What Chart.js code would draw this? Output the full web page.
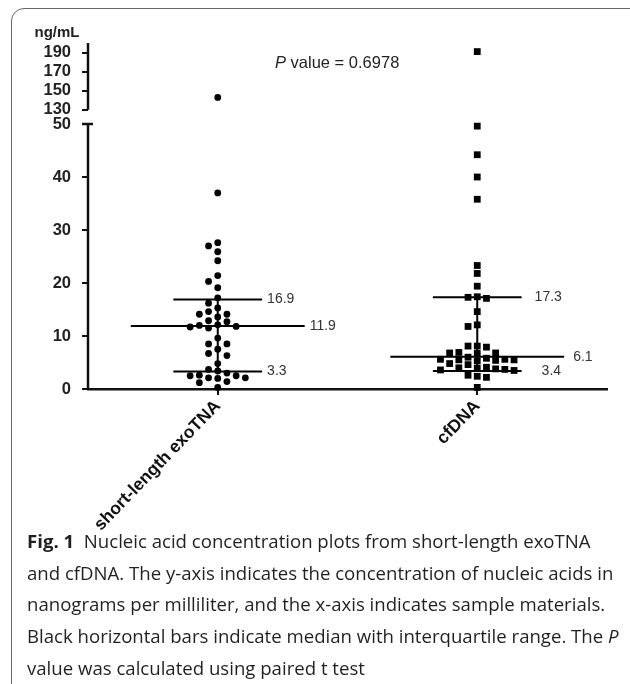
<!DOCTYPE html>
<html>
<head>
<meta charset="utf-8">
<script src="https://cdn.jsdelivr.net/npm/chart.js@4"></script>
<style>
  body { margin: 0; background: #fff; }
  #wrap { position: relative; width: 630px; height: 684px; overflow: hidden; }
  #frame { position: absolute; left: 11px; top: 8px; width: 660px; height: 700px;
           border: 1.5px solid #666; border-radius: 13px; box-sizing: border-box; }
  #chartBox { position: absolute; left: 0; top: 0; width: 630px; height: 684px; }
  #caption { position: absolute; left: 27px; top: 525px; font-family: "Open Sans", sans-serif;
             font-size: 18.6px; line-height: 31.7px; color: #231f20; white-space: nowrap; letter-spacing: 0; }
</style>
</head>
<body>
<div id="wrap">
  <div id="frame"></div>
  <div id="chartBox"><canvas id="plot"></canvas></div>
  <div id="caption">
    <b>Fig. 1</b>&nbsp;&nbsp;Nucleic acid concentration plots from short-length exoTNA<br>
    and cfDNA. The y-axis indicates the concentration of nucleic acids in<br>
    nanograms per milliliter, and the x-axis indicates sample materials.<br>
    Black horizontal bars indicate median with interquartile range. The <i>P</i><br>
    value was calculated using paired t test
  </div>
</div>
<script>
const categories = ["short-length exoTNA", "cfDNA"];
const exoTNA = [143, 37, 27.6, 27.0, 25.9, 24.2, 21.4, 20.3, 19.1, 17.2, 16.2, 15.3, 14.6, 14.1,
  14.1, 13.6, 12.9, 12.7, 12.1, 12.0, 11.8, 11.7, 11.5, 9.6, 8.5, 8.5, 7.5, 6.7, 6.3, 4.8,
  3.7, 3.4, 3.0, 2.6, 2.5, 2.5, 2.1, 2.1, 2.0, 1.4, 1.2, 0.3];
const cfDNA = [191, 49.6, 44.2, 40.0, 35.8, 23.3, 21.8, 19.4, 17.4, 17.3, 17.1, 14.6, 12.1, 11.8,
  8.1, 8.1, 7.9, 6.9, 6.8, 6.8, 6.7, 6.0, 5.8, 5.6, 5.6, 5.5, 5.5, 5.4, 5.3, 4.8, 4.6,
  4.1, 4.0, 3.9, 3.8, 3.7, 3.6, 3.5, 2.6, 2.4, 2.2, 0.3];
const medians = [11.9, 6.1];
const q1 = [3.3, 3.4];
const q3 = [16.9, 17.3];
const lowerTicks = [0, 10, 20, 30, 40, 50];
const upperTicks = [130, 150, 170, 190];
const breakLow = 50;
const breakHigh = 130;
const pValue = "0.6978";

const groups = [exoTNA, cfDNA];
const medHalf = 0.335, iqrHalf = 0.171;
const labelNudge = [[0, 0, 0], [8, 4, 15]]; // q3, median, q1 label extra x shift
const ink = "#111";
const font = "Liberation Sans, Arial, sans-serif";
Chart.defaults.font.family = font;

function pointSets(offsets) {
  const sets = [];
  groups.forEach((vals, i) => {
    const pts = vals.map((v, j) => ({ x: i + (offsets ? offsets[i][j] : 0), y: v }));
    const style = {
      pointStyle: i === 0 ? "circle" : "rect",
      pointRadius: i === 0 ? 3.4 : 4.8,
      backgroundColor: "#000", borderColor: "#000", borderWidth: 0, clip: false
    };
    sets.push({ ...style, yAxisID: "yLow", data: pts.filter(p => p.y <= breakLow) });
    sets.push({ ...style, yAxisID: "yHigh", data: pts.filter(p => p.y >= breakHigh) });
  });
  return sets;
}

function lineSet(data) {
  return { type: "line", showLine: true, data, yAxisID: "yLow", borderColor: "#000",
           borderWidth: 2, pointRadius: 0, clip: false, order: -1 };
}

function summarySets() {
  const sets = [];
  groups.forEach((_, i) => {
    sets.push(lineSet([{ x: i - medHalf, y: medians[i] }, { x: i + medHalf, y: medians[i] }]));
    sets.push(lineSet([{ x: i - iqrHalf, y: q1[i] }, { x: i + iqrHalf, y: q1[i] }]));
    sets.push(lineSet([{ x: i - iqrHalf, y: q3[i] }, { x: i + iqrHalf, y: q3[i] }]));
    sets.push(lineSet([{ x: i, y: q1[i] }, { x: i, y: q3[i] }]));
  });
  return sets;
}

const brokenAxis = {
  id: "brokenAxis",
  afterDraw(chart) {
    const { ctx, scales: { x, yLow, yHigh } } = chart;
    const ax = yLow.right;
    ctx.save();
    ctx.strokeStyle = ink;
    ctx.lineWidth = 2.5;
    ctx.beginPath();
    ctx.moveTo(ax, yLow.getPixelForValue(0) + 1);
    ctx.lineTo(ax, yLow.getPixelForValue(breakLow));
    ctx.moveTo(ax - 6, yLow.getPixelForValue(breakLow));
    ctx.lineTo(ax + 5, yLow.getPixelForValue(breakLow));
    ctx.moveTo(ax, yHigh.getPixelForValue(breakHigh));
    ctx.lineTo(ax, yHigh.top);
    ctx.stroke();

    // summary value labels
    ctx.fillStyle = "#333";
    ctx.font = "14px " + font;
    ctx.textBaseline = "middle";
    ctx.textAlign = "left";
    groups.forEach((_, i) => {
      const rows = [[q3[i], iqrHalf], [medians[i], medHalf], [q1[i], iqrHalf]];
      rows.forEach(([v, half], r) => {
        ctx.fillText(v.toFixed(1), x.getPixelForValue(i + half) + 5 + labelNudge[i][r], yLow.getPixelForValue(v));
      });
    });

    // unit and P value
    ctx.fillStyle = "#222";
    ctx.font = "bold 15px " + font;
    ctx.textAlign = "center";
    ctx.fillText("ng/mL", 57, 33);
    ctx.font = "italic 16.5px " + font;
    ctx.textAlign = "left";
    ctx.fillText("P", 275, 63);
    const pw = ctx.measureText("P").width;
    ctx.font = "16.5px " + font;
    ctx.fillText(" value = " + pValue, 275 + pw, 63);
    ctx.restore();
  }
};

const yCommon = {
  type: "linear", position: "left", stack: "y",
  border: { display: false },
  grid: { drawOnChartArea: false, tickLength: 6, color: ink, lineWidth: 2 },
  ticks: { font: { size: 16.5, weight: "bold" }, color: "#222", padding: 11 },
  afterFit: s => { s.width = 88; }
};

const chart = new Chart(document.getElementById("plot"), {
  type: "scatter",
  data: { datasets: [...pointSets(null), ...summarySets()] },
  options: {
    responsive: true, maintainAspectRatio: false, animation: false,
    layout: { padding: { top: 43, right: 23, left: 0, bottom: 0 } },
    plugins: { legend: { display: false }, tooltip: { enabled: false } },
    scales: {
      x: {
        type: "linear", min: -0.5, max: 1.5,
        afterBuildTicks: s => { s.ticks = categories.map((_, i) => ({ value: i })); },
        afterFit: s => { s.height = 684 - 389; },
        border: { color: ink, width: 2.5 },
        grid: { drawOnChartArea: false, tickLength: 6, color: ink, lineWidth: 2 },
        ticks: { callback: v => categories[v], font: { size: 17.5, weight: "bold" }, color: ink,
                 minRotation: 46, maxRotation: 46, padding: 1 }
      },
      yLow: { ...yCommon, min: 0, max: 50, stackWeight: 265,
        afterBuildTicks: s => { s.ticks = lowerTicks.map(v => ({ value: v })); } },
      yHigh: { ...yCommon, min: 115.2, max: 200, stackWeight: 81,
        afterBuildTicks: s => { s.ticks = upperTicks.map(v => ({ value: v })); } }
    }
  },
  plugins: [brokenAxis]
});

// spread each group sideways like a column scatter, using the laid-out pixel scales
function swarmOffsets() {
  const { x, yLow, yHigh } = chart.scales;
  const pxPerUnit = x.getPixelForValue(1) - x.getPixelForValue(0);
  const step = 9.2, minDy = 7.4;
  return groups.map(vals => {
    const placed = [];
    const out = new Array(vals.length).fill(0);
    const order = vals.map((_, i) => i).sort((a, b) => vals[b] - vals[a]);
    order.forEach(i => {
      const v = vals[i];
      const py = v <= breakLow ? yLow.getPixelForValue(v) : yHigh.getPixelForValue(v);
      for (let k = 0; k < 40; k++) {
        const col = k === 0 ? 0 : (k % 2 ? -Math.ceil(k / 2) : Math.ceil(k / 2));
        if (!placed.some(p => p.col === col && Math.abs(p.py - py) < minDy)) {
          placed.push({ col, py });
          out[i] = col * step / pxPerUnit;
          break;
        }
      }
    });
    return out;
  });
}

chart.data.datasets = [...pointSets(swarmOffsets()), ...summarySets()];
chart.update("none");
</script>
</body>
</html>
